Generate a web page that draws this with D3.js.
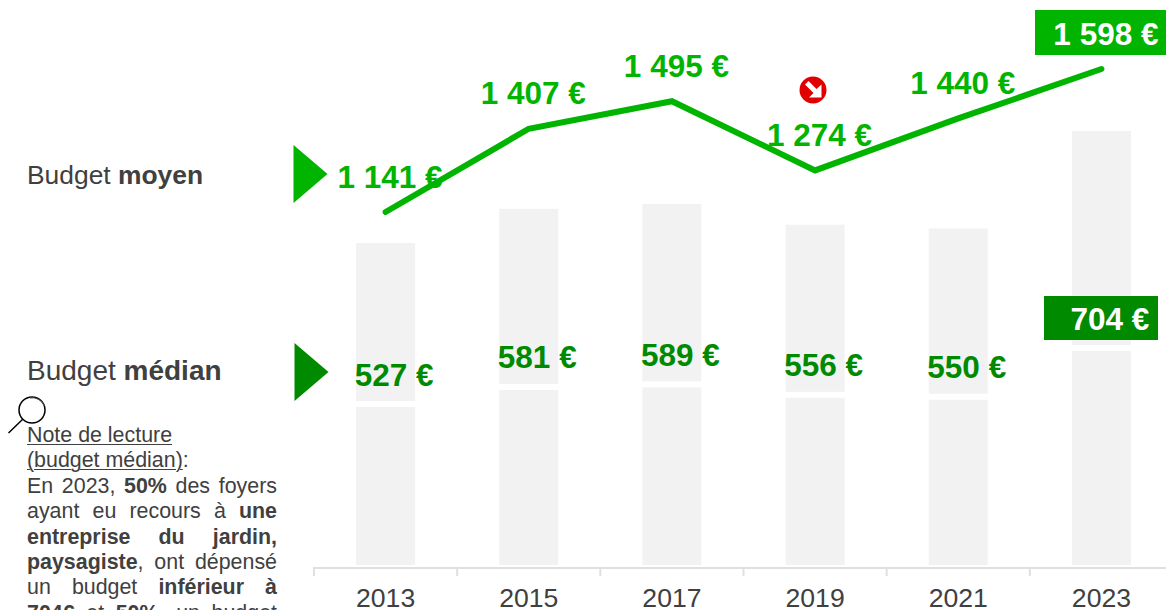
<!DOCTYPE html>
<html lang="fr">
<head>
<meta charset="utf-8">
<title>Budget moyen et médian</title>
<script src="https://cdn.jsdelivr.net/npm/d3@7"></script>
<style>
  html, body { margin: 0; padding: 0; background: #fff; overflow: hidden; }
  #chart { position: relative; width: 1166px; height: 610px; overflow: hidden; font-family: "Liberation Sans", Arial, sans-serif; }
  #chart svg { position: absolute; left: 0; top: 0; }
  .note { position: absolute; left: 27px; top: 423px; width: 250px; font-size: 21.4px; line-height: 25.4px; color: #404040; text-align: justify; }
  .note u { text-decoration-thickness: 1px; text-underline-offset: 2px; }
</style>
</head>
<body>
<div id="chart"></div>
<script>
var years = ['2013', '2015', '2017', '2019', '2021', '2023'];
var meanBudget = [1141, 1407, 1495, 1274, 1440, 1598];
var medianBudget = [527, 581, 589, 556, 550, 704];
var barFloor = 28; // the bar axis does not start at zero in the source
var gapValue = 19; // white band between the two halves of each bar

var width = 1166,
    height = 610,
    green = '#00b400',
    darkGreen = '#008a00',
    barColor = '#f2f2f2',
    textColor = '#404040',
    axisColor = '#e0e0e0';

var container = d3.select('#chart');
var svg = container.append('svg').attr('width', width).attr('height', height);

var x = d3.scaleBand().domain(years).range([314, 1173]).paddingInner(0.588).paddingOuter(0.294);
var yBar = d3.scaleLinear().domain([barFloor, 704]).range([565, 351]);
var yLine = d3.scaleLinear().domain([1141, 1598]).range([212, 69]);

function center(year) { return x(year) + x.bandwidth() / 2; }
function money(v) { return d3.format(',')(v).replace(',', ' ') + ' €'; }

// Stacked bars: median, gap, then upper half
var bars = svg.append('g').selectAll('g').data(years).enter().append('g');
bars.append('rect')
    .attr('x', function(d) { return x(d); })
    .attr('width', x.bandwidth())
    .attr('y', function(d, i) { return yBar(medianBudget[i]); })
    .attr('height', function(d, i) { return yBar(barFloor) - yBar(medianBudget[i]); })
    .attr('fill', barColor);
bars.append('rect')
    .attr('x', function(d) { return x(d); })
    .attr('width', x.bandwidth())
    .attr('y', function(d, i) { return yBar(2 * medianBudget[i] + gapValue - barFloor); })
    .attr('height', function(d, i) { return yBar(barFloor) - yBar(medianBudget[i]); })
    .attr('fill', barColor);

// Axis with ticks between the categories
var axis = svg.append('g')
    .attr('transform', 'translate(0,567.5)')
    .call(d3.axisBottom(x).tickSize(0).tickPadding(21));
axis.select('.domain').attr('stroke', axisColor).attr('stroke-width', 2);
axis.selectAll('text')
    .attr('font-family', '"Liberation Sans", Arial, sans-serif')
    .attr('font-size', 26.6)
    .attr('fill', textColor);
svg.append('g').selectAll('line').data(years).enter().append('line')
    .attr('x1', function(d) { return x(d) - x.step() * 0.294; })
    .attr('x2', function(d) { return x(d) - x.step() * 0.294; })
    .attr('y1', 567)
    .attr('y2', 576)
    .attr('stroke', axisColor)
    .attr('stroke-width', 2);

// Mean line
var line = d3.line()
    .x(function(d, i) { return center(years[i]); })
    .y(function(d) { return yLine(d); });
svg.append('path')
    .datum(meanBudget)
    .attr('d', line)
    .attr('fill', 'none')
    .attr('stroke', green)
    .attr('stroke-width', 6)
    .attr('stroke-linecap', 'round')
    .attr('stroke-linejoin', 'miter');

// Highlight boxes for 2023
svg.append('rect').attr('x', 1035).attr('y', 10).attr('width', 131).attr('height', 45).attr('fill', green);
svg.append('rect').attr('x', 1044).attr('y', 296).attr('width', 114).attr('height', 44).attr('fill', darkGreen);

// Value labels
svg.append('g').selectAll('text').data(meanBudget).enter().append('text')
    .attr('x', function(d, i) { return center(years[i]) + 4.5; })
    .attr('y', function(d) { return yLine(d) - 24.5; })
    .attr('text-anchor', 'middle')
    .attr('font-size', 31.5)
    .attr('font-weight', 'bold')
    .attr('fill', function(d, i) { return i === years.length - 1 ? '#fff' : green; })
    .text(money);
svg.append('g').selectAll('text').data(medianBudget).enter().append('text')
    .attr('x', function(d, i) { return center(years[i]) + 8.5; })
    .attr('y', function(d) { return yBar(d) - 21.5; })
    .attr('text-anchor', 'middle')
    .attr('font-size', 31.5)
    .attr('font-weight', 'bold')
    .attr('fill', function(d, i) { return i === years.length - 1 ? '#fff' : darkGreen; })
    .text(money);

// Row labels with their triangles
var moyen = svg.append('text').attr('x', 27).attr('y', 184).attr('font-size', 26.4).attr('fill', textColor);
moyen.append('tspan').text('Budget ');
moyen.append('tspan').attr('font-weight', 'bold').text('moyen');
var median = svg.append('text').attr('x', 27).attr('y', 380).attr('font-size', 28).attr('fill', textColor);
median.append('tspan').text('Budget ');
median.append('tspan').attr('font-weight', 'bold').text('médian');

svg.append('path').attr('d', 'M293.5,145L327.5,174L293.5,203Z').attr('fill', green);
svg.append('path').attr('d', 'M294.5,343L328.5,372L294.5,401Z').attr('fill', darkGreen);

// Red trend marker
var marker = svg.append('g').attr('transform', 'translate(813,90)');
marker.append('circle').attr('r', 13.5).attr('fill', '#e00000');
marker.append('path').attr('d', 'M-8,-5.5L-4.5,-9L3.5,-1L8.5,-5.5L8.5,7.5L-4,7.5L0.5,3Z').attr('fill', '#fff');

// Magnifier
var glass = svg.append('g').attr('fill', 'none').attr('stroke', '#000');
glass.append('circle').attr('cx', 32).attr('cy', 410).attr('r', 13).attr('stroke-width', 1.5);
glass.append('path').attr('d', 'M23,419L8.5,433').attr('stroke-width', 1.5);
glass.append('path').attr('d', 'M30,398A13,13 0 0 1 44.5,406').attr('stroke', '#555').attr('stroke-width', 1);

// Reading note, cropped by the bottom of the page as in the source
container.append('div').attr('class', 'note').html(
  '<u>Note de lecture<br>(budget médian)</u>:<br>' +
  'En 2023, <b>50%</b> des foyers ayant eu recours à <b>une entreprise du jardin, paysagiste</b>, ' +
  'ont dépensé un budget <b>inférieur à 704€</b> et <b>50%</b>, un budget <b>supérieur</b>.'
);
</script>
</body>
</html>
